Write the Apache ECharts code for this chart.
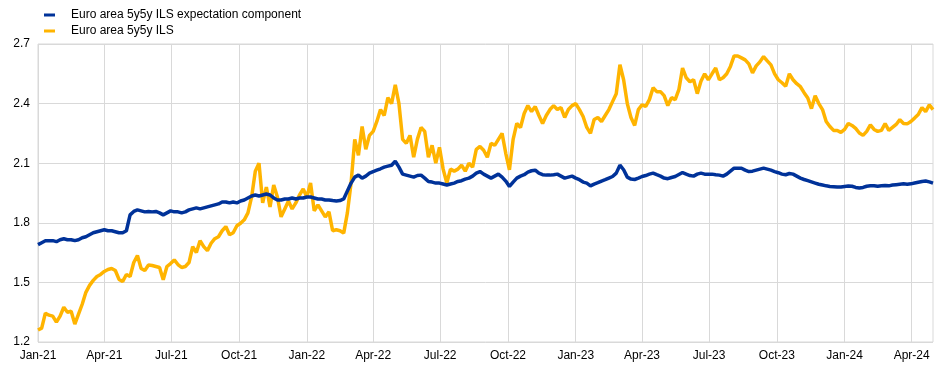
<!DOCTYPE html>
<html>
<head>
<meta charset="utf-8">
<script src="https://cdn.jsdelivr.net/npm/echarts@6/dist/echarts.min.js"></script>
<style>
  html, body { margin: 0; padding: 0; background: #fff; }
  #chart { width: 944px; height: 369px; }
</style>
</head>
<body>
<div id="chart"></div>
<script>
// daily calendar from Jan-21 to end of Apr-24, readings taken every 5 days
var startDay = Date.UTC(2021, 0, 1);
var endDay = Date.UTC(2024, 3, 30);
var stepDays = 5;
var monthNames = ['Jan', 'Feb', 'Mar', 'Apr', 'May', 'Jun', 'Jul', 'Aug', 'Sep', 'Oct', 'Nov', 'Dec'];
var quarterMonths = ['01', '04', '07', '10'];
var seriesNames = ['Euro area 5y5y ILS expectation component', 'Euro area 5y5y ILS'];

// Euro area 5y5y ILS expectation component (blue)
var expectationComponent = [
  1.69, 1.70, 1.71, 1.71, 1.71, 1.705, 1.715, 1.72, 1.715, 1.715,
  1.71, 1.715, 1.725, 1.73, 1.74, 1.75, 1.755, 1.76, 1.765, 1.76,
  1.76, 1.755, 1.75, 1.75, 1.76, 1.84, 1.857, 1.865, 1.86, 1.855,
  1.857, 1.855, 1.857, 1.85, 1.84, 1.85, 1.86, 1.855, 1.855, 1.85,
  1.855, 1.865, 1.87, 1.875, 1.87, 1.875, 1.88, 1.885, 1.89, 1.895,
  1.905, 1.905, 1.90, 1.905, 1.90, 1.91, 1.915, 1.925, 1.935, 1.94,
  1.935, 1.94, 1.945, 1.94, 1.925, 1.915, 1.915, 1.92, 1.92, 1.925,
  1.92, 1.925, 1.925, 1.93, 1.93, 1.925, 1.92, 1.92, 1.915, 1.915,
  1.912, 1.91, 1.912, 1.92, 1.96, 2.0, 2.03, 2.04, 2.025, 2.035,
  2.05, 2.058, 2.065, 2.072, 2.08, 2.085, 2.09, 2.11, 2.08, 2.045,
  2.04, 2.035, 2.03, 2.038, 2.04, 2.025, 2.008, 2.005, 2.0, 2.0,
  1.995, 1.99, 1.995, 2.0, 2.008, 2.012, 2.02, 2.025, 2.035, 2.05,
  2.058, 2.045, 2.035, 2.025, 2.035, 2.045, 2.03, 2.01, 1.983, 2.005,
  2.025, 2.035, 2.042, 2.055, 2.062, 2.065, 2.05, 2.042, 2.04, 2.04,
  2.042, 2.045, 2.035, 2.025, 2.03, 2.035, 2.025, 2.017, 2.005, 2.0,
  1.986, 1.995, 2.002, 2.01, 2.017, 2.025, 2.033, 2.05, 2.09, 2.067,
  2.03, 2.02, 2.018, 2.025, 2.033, 2.038, 2.045, 2.05, 2.042, 2.035,
  2.025, 2.022, 2.028, 2.033, 2.043, 2.053, 2.045, 2.038, 2.035, 2.045,
  2.05, 2.045, 2.045, 2.045, 2.042, 2.04, 2.035, 2.045, 2.06, 2.075,
  2.075, 2.075, 2.065, 2.058, 2.06, 2.065, 2.07, 2.075, 2.07, 2.065,
  2.058, 2.052, 2.045, 2.042, 2.048, 2.045, 2.035, 2.025, 2.018, 2.012,
  2.006, 2.0, 1.994, 1.99, 1.986, 1.983, 1.982, 1.98, 1.98, 1.983,
  1.985, 1.984, 1.978, 1.975, 1.978, 1.984, 1.986, 1.986, 1.984, 1.986,
  1.988, 1.986, 1.99, 1.992, 1.994, 1.996, 1.994, 1.996, 2.0, 2.004,
  2.008, 2.01, 2.006, 2.0
];

// Euro area 5y5y ILS (yellow)
var ils = [
  1.26, 1.27, 1.345, 1.335, 1.33, 1.30, 1.33, 1.375, 1.35, 1.355,
  1.29, 1.34, 1.39, 1.45, 1.485, 1.51, 1.53, 1.54, 1.555, 1.565,
  1.57, 1.56, 1.515, 1.505, 1.54, 1.53, 1.60, 1.635, 1.57, 1.56,
  1.588, 1.585, 1.58, 1.575, 1.513, 1.58, 1.595, 1.613, 1.59, 1.575,
  1.58, 1.60, 1.68, 1.65, 1.71, 1.68, 1.66, 1.697, 1.72, 1.73,
  1.76, 1.781, 1.74, 1.75, 1.785, 1.798, 1.815, 1.85, 1.93, 2.06,
  2.10, 1.90, 1.98, 1.88, 1.99, 1.93, 1.83, 1.87, 1.91, 1.87,
  1.90, 1.94, 1.97, 1.93, 2.0, 1.86, 1.89, 1.86, 1.83, 1.855,
  1.76, 1.765, 1.76, 1.748, 1.85, 2.0, 2.22, 2.14, 2.285, 2.17,
  2.24, 2.26, 2.31, 2.37, 2.34, 2.43, 2.40, 2.495, 2.40, 2.22,
  2.20, 2.24, 2.13, 2.22, 2.28, 2.26, 2.13, 2.19, 2.10, 2.18,
  2.07, 2.00, 2.07, 2.06, 2.07, 2.09, 2.06, 2.10, 2.08, 2.17,
  2.184, 2.165, 2.13, 2.20, 2.19, 2.22, 2.25, 2.15, 2.067, 2.22,
  2.30, 2.28, 2.35, 2.39, 2.36, 2.385, 2.34, 2.30, 2.34, 2.37,
  2.39, 2.37, 2.38, 2.33, 2.37, 2.39, 2.40, 2.37, 2.335, 2.28,
  2.25, 2.32, 2.33, 2.31, 2.34, 2.37, 2.41, 2.45, 2.596, 2.52,
  2.40, 2.33, 2.29, 2.37, 2.394, 2.386, 2.42, 2.48, 2.46, 2.46,
  2.44, 2.39, 2.43, 2.42, 2.47, 2.579, 2.53, 2.51, 2.52, 2.45,
  2.512, 2.55, 2.52, 2.55, 2.579, 2.52, 2.53, 2.55, 2.587, 2.64,
  2.64, 2.63, 2.62, 2.60, 2.555, 2.59, 2.61, 2.637, 2.615, 2.595,
  2.55, 2.52, 2.505, 2.487, 2.55, 2.52, 2.50, 2.485, 2.455, 2.428,
  2.375, 2.44, 2.40, 2.37, 2.31, 2.285, 2.265, 2.265, 2.255, 2.27,
  2.30, 2.29, 2.275, 2.252, 2.24, 2.26, 2.293, 2.27, 2.26, 2.265,
  2.30, 2.265, 2.28, 2.295, 2.319, 2.30, 2.298, 2.31, 2.327, 2.345,
  2.38, 2.36, 2.394, 2.37
];

var days = [];
for (var t = startDay; t <= endDay; t += 86400000) {
  days.push(new Date(t).toISOString().slice(0, 10));
}

function isQuarterStart(index, value) {
  return value.slice(8) === '01' && quarterMonths.indexOf(value.slice(5, 7)) >= 0;
}

function toPoints(values) {
  return values.map(function (v, i) { return [i * stepDays, v]; });
}

var myChart = echarts.init(document.getElementById('chart'));
var gridColor = '#d9d9d9';
var font = '"Liberation Sans", Arial, sans-serif';

option = {
  animation: false,
  backgroundColor: '#fff',
  textStyle: { fontFamily: font },
  legend: {
    orient: 'vertical',
    left: 39,
    top: 3,
    itemWidth: 11,
    itemHeight: 3,
    itemGap: 2,
    icon: 'rect',
    data: seriesNames,
    textStyle: {
      fontFamily: font,
      fontSize: 12,
      lineHeight: 14,
      color: '#000',
      padding: [0, 0, 0, 11]
    }
  },
  grid: {
    left: 38,
    right: 11,
    top: 44,
    bottom: 27,
    show: true,
    borderColor: gridColor,
    borderWidth: 1
  },
  xAxis: {
    type: 'category',
    data: days,
    boundaryGap: false,
    axisLine: { show: false },
    axisTick: { show: false },
    axisLabel: {
      interval: isQuarterStart,
      margin: 8,
      fontFamily: font,
      fontSize: 12,
      color: '#000',
      formatter: function (v) {
        return monthNames[parseInt(v.slice(5, 7), 10) - 1] + '-' + v.slice(2, 4);
      }
    },
    splitLine: {
      show: true,
      interval: isQuarterStart,
      lineStyle: { color: gridColor, width: 1 }
    }
  },
  yAxis: {
    type: 'value',
    min: 1.2,
    max: 2.7,
    interval: 0.3,
    axisLine: { show: false },
    axisTick: { show: false },
    axisLabel: {
      margin: 8,
      fontFamily: font,
      fontSize: 12,
      color: '#000',
      formatter: function (v) { return v.toFixed(1); }
    },
    splitLine: { lineStyle: { color: gridColor, width: 1 } }
  },
  series: [{
    name: seriesNames[1],
    type: 'line',
    data: toPoints(ils),
    showSymbol: false,
    symbol: 'none',
    z: 2,
    lineStyle: { color: '#ffb400', width: 3.5 },
    itemStyle: { color: '#ffb400' }
  }, {
    name: seriesNames[0],
    type: 'line',
    data: toPoints(expectationComponent),
    showSymbol: false,
    symbol: 'none',
    z: 3,
    lineStyle: { color: '#003299', width: 3.5 },
    itemStyle: { color: '#003299' }
  }]
};
myChart.setOption(option);
</script>
</body>
</html>
